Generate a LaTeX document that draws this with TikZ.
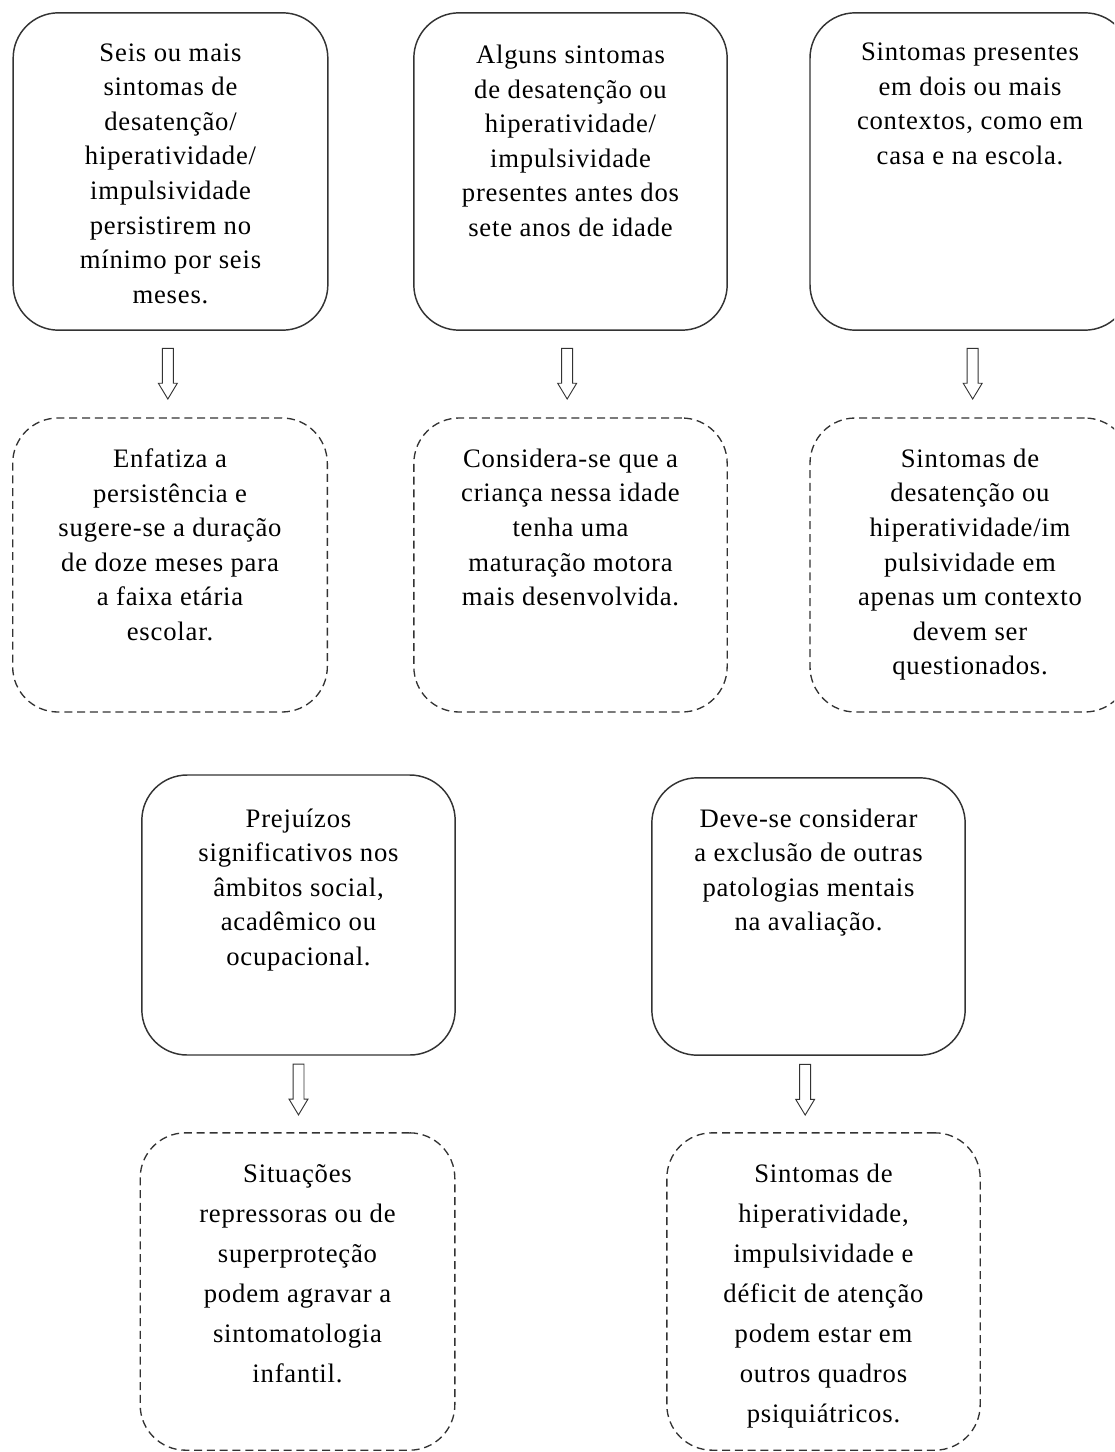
\documentclass[tikz,border=0pt]{standalone}
\usepackage{fontspec}
\setmainfont{Liberation Serif}[LetterSpace=3]
\usetikzlibrary{positioning,shapes.arrows,calc}

\begin{document}
\begin{tikzpicture}[
x=0.75pt,y=-0.75pt,
caixa/.style={draw=black!80,line width=1.1pt,rounded corners=34pt,inner sep=0pt},
caixatr/.style={caixa,dash pattern=on 6pt off 3.6pt,line width=1pt},
texto/.style={align=center,inner sep=0pt,anchor=north,font=\fontsize{20}{25.9}\selectfont},
seta/.style={single arrow,draw=black!80,line width=0.7pt,shape border rotate=270,
  minimum height=38pt,inner sep=3.75pt,single arrow head extend=3pt,
  single arrow tip angle=62,anchor=tail}]
    \clip (0,0) rectangle (1114,1452);

    % primeira linha
    \node[caixa,minimum width=236pt,minimum height=238pt] (a) at (170.5,171.5) {};
    \node[caixa,minimum width=235pt,minimum height=238pt] (b) at (570.5,171.5) {};
    \node[caixa,minimum width=240pt,minimum height=238pt] (c) at (970,171.5) {};
    \node[texto] (ta) at ([yshift=-23.5pt]a.north) {Seis ou mais\\sintomas de\\desatenção/\\hiperatividade/\\impulsividade\\persistirem no\\mínimo por seis\\meses.};
    \node[texto] (tb) at ([yshift=-24.5pt]b.north) {Alguns sintomas\\de desatenção ou\\hiperatividade/\\impulsividade\\presentes antes dos\\sete anos de idade};
    \node[texto] (tc) at ([yshift=-23pt]c.north) {Sintomas presentes\\em dois ou mais\\contextos, como em\\casa e na escola.};

    % segunda linha
    \node[caixatr,minimum width=236pt,minimum height=220.5pt] (d) at (170,565) {};
    \node[caixatr,minimum width=235pt,minimum height=220.5pt] (e) at (570.5,565) {};
    \node[caixatr,minimum width=240pt,minimum height=220.5pt] (f) at (970,565) {};
    \node[texto] (td) at ([yshift=-23.5pt]d.north) {Enfatiza a\\persistência e\\sugere-se a duração\\de doze meses para\\a faixa etária\\escolar.};
    \node[texto] (te) at ([yshift=-23.5pt]e.north) {Considera-se que a\\criança nessa idade\\tenha uma\\maturação motora\\mais desenvolvida.};
    \node[texto] (tf) at ([yshift=-23.5pt]f.north) {Sintomas de\\desatenção ou\\hiperatividade/im\\pulsividade em\\apenas um contexto\\devem ser\\questionados.};

    \node[seta] (s1) at ([xshift=-2pt,yshift=-12.75pt]a.south) {};
    \node[seta] (s2) at ([xshift=-2.5pt,yshift=-12.75pt]b.south) {};
    \node[seta] (s3) at ([xshift=2pt,yshift=-12.75pt]c.south) {};

    % terceira linha
    \node[caixa,minimum width=235pt,minimum height=210pt] (g) at (298.5,915) {};
    \node[caixa,minimum width=235pt,minimum height=208pt] (h) at (808.5,916.5) {};
    \node[texto] (tg) at ([yshift=-25.5pt]g.north) {Prejuízos\\significativos nos\\âmbitos social,\\acadêmico ou\\ocupacional.};
    \node[texto] (th) at ([yshift=-23.5pt]h.north) {Deve-se considerar\\a exclusão de outras\\patologias mentais\\na avaliação.};

    % quarta linha
    \node[caixatr,minimum width=236pt,minimum height=238pt] (i) at (297.5,1291.5) {};
    \node[caixatr,minimum width=235pt,minimum height=238pt] (j) at (823.5,1291.5) {};
    \node[texto,font=\fontsize{20}{30}\selectfont] (ti) at ([yshift=-24pt]i.north) {Situações\\repressoras ou de\\superproteção\\podem agravar a\\sintomatologia\\infantil.};
    \node[texto,font=\fontsize{20}{30}\selectfont] (tj) at ([yshift=-24pt]j.north) {Sintomas de\\hiperatividade,\\impulsividade e\\déficit de atenção\\podem estar em\\outros quadros\\psiquiátricos.};

    \node[seta] (s4) at ([yshift=-6pt]g.south) {};
    \node[seta] (s5) at ([xshift=-2.5pt,yshift=-6pt]h.south) {};

\end{tikzpicture}
\end{document}
